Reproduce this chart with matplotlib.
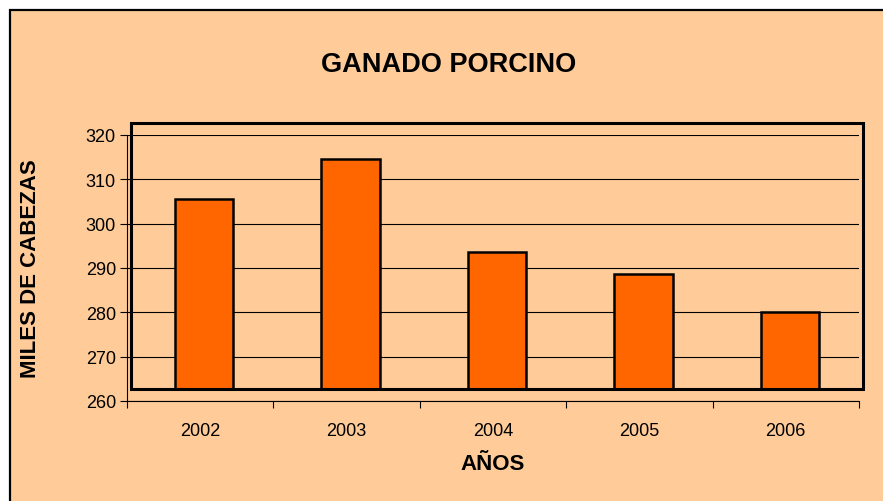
import numpy as np
import matplotlib.pyplot as plt
from matplotlib.patches import Rectangle
from matplotlib.transforms import ScaledTranslation

years = ['2002', '2003', '2004', '2005', '2006']
cabezas = [305.6, 314.6, 293.6, 288.6, 280.1]
y_ticks = [260, 270, 280, 290, 300, 310, 320]

bg = '#FFCC99'
bar_color = '#FF6600'
plt.rcParams['font.family'] = ['Liberation Sans', 'DejaVu Sans']

W, H, dpi = 883, 502, 100
fig = plt.figure(figsize=(W / dpi, H / dpi), dpi=dpi, facecolor='white')

# chart area with black top/left border (right and bottom are cut off)
fig.patches.append(Rectangle((10 / W, -0.1), 1.1, 1 - 11 / H + 0.1,
                             transform=fig.transFigure, facecolor=bg,
                             edgecolor='black', lw=1.6, zorder=-1))

ax = fig.add_axes([127 / W, 100 / H, 732 / W, 266 / H])
ax.set_facecolor('none')
ax.set_xlim(-0.5, 4.5)
ax.set_ylim(260, 320)

# gridlines (drawn in the axes, unshifted)
ax.set_yticks(y_ticks)
ax.yaxis.grid(True, color='black', lw=0.8)
ax.set_axisbelow(True)
ax.tick_params(axis='y', length=5, width=0.8, labelsize=13, pad=3)
ax.set_xticks(np.arange(len(years) + 1) - 0.5)
ax.set_xticklabels([])
ax.set_xticks(np.arange(len(years)), minor=True)
ax.set_xticklabels(years, minor=True)
ax.tick_params(axis='x', which='major', length=5, width=0.8, direction='out')
ax.tick_params(axis='x', which='minor', length=0, labelsize=13, pad=15)
for s in ['top', 'right']:
    ax.spines[s].set_visible(False)
for s in ['left', 'bottom']:
    ax.spines[s].set_linewidth(0.8)

# plot frame and bars are offset a few pixels (excel-style)
shift = ScaledTranslation(4 / dpi, 12 / dpi, fig.dpi_scale_trans)
frame = Rectangle((0, 0), 1, 1, transform=ax.transAxes + shift,
                  facecolor='none', edgecolor='black', lw=2.2,
                  clip_on=False, zorder=5)
ax.add_patch(frame)

bar_shift = ScaledTranslation(4 / dpi, 0, fig.dpi_scale_trans)
bars = ax.bar(np.arange(len(years)), np.array(cabezas) - 260, bottom=260,
              width=0.4, color=bar_color, edgecolor='black', lw=1.8,
              zorder=3)
for b in bars:
    b.set_transform(ax.transData + bar_shift)
    b.set_clip_path(frame)

fig.text(449 / W, 1 - 64.5 / H, 'GANADO PORCINO', ha='center', va='center',
         fontsize=19.5, fontweight='bold')
fig.text(31 / W, 1 - 269 / H, 'MILES DE CABEZAS', ha='center', va='center',
         rotation=90, fontsize=16, fontweight='bold')
fig.text(493 / W, 1 - 465 / H, 'AÑOS', ha='center', va='center',
         fontsize=16, fontweight='bold')

fig.savefig('out.png', dpi=dpi, facecolor='white')
